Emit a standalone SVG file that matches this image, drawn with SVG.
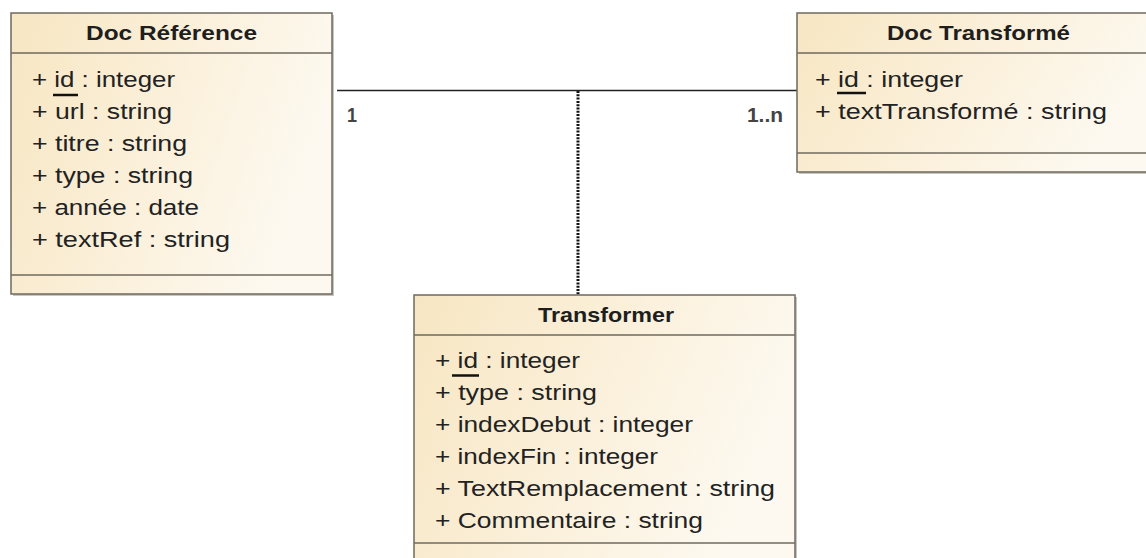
<svg xmlns="http://www.w3.org/2000/svg" width="1146" height="558" viewBox="0 0 1146 558">
<style>
  .box{fill:url(#fillg);stroke:#6f6a5e;stroke-width:1.5}
  .shadow{fill:#c9c6c0}
  .sep{stroke:#6f6a5e;stroke-width:1.5}
  .title{font-family:"Liberation Sans",Arial,sans-serif;font-weight:bold;font-size:21px;fill:#1e1e1e}
  .attr{font-family:"Liberation Sans",Arial,sans-serif;font-size:22.5px;fill:#222}
  .mult{font-family:"Liberation Sans",Arial,sans-serif;font-size:20px;font-weight:bold;fill:#444}
  .ul{stroke:#111;stroke-width:2.5}
  .assoc{stroke:#222;stroke-width:1.6;fill:none}
  .dep{stroke:#111;stroke-width:3;stroke-dasharray:2 1.3;fill:none}
</style>
<defs>
  <linearGradient id="fillg" x1="0" y1="0" x2="1" y2="0.3">
    <stop offset="0" stop-color="#f7e6c2"/>
    <stop offset="0.6" stop-color="#fbf1dd"/>
    <stop offset="1" stop-color="#fdf9f0"/>
  </linearGradient>
</defs>
<rect width="1146" height="558" fill="#ffffff"/>

<g id="connectors">
  <line class="assoc" x1="337" y1="90.5" x2="797" y2="90.5"/>
  <line class="dep" x1="578" y1="91" x2="578" y2="295"/>
  <text class="mult" x="347" y="122" textLength="10" lengthAdjust="spacingAndGlyphs">1</text>
  <text class="mult" x="747" y="122" textLength="36" lengthAdjust="spacingAndGlyphs">1..n</text>
</g>

<g id="doc-reference">
  <rect class="shadow" x="13" y="15" width="321" height="281"/>
  <rect class="box" x="11" y="13" width="321" height="281"/>
  <line class="sep" x1="11" y1="53" x2="332" y2="53"/>
  <line class="sep" x1="11" y1="275" x2="332" y2="275"/>
  <text class="title" x="86" y="40" textLength="171" lengthAdjust="spacingAndGlyphs">Doc Référence</text>
  <text class="attr" x="32" y="87" textLength="143" lengthAdjust="spacingAndGlyphs">+ id : integer</text>
  <line class="ul" x1="53" y1="95" x2="78" y2="95"/>
  <text class="attr" x="32" y="119" textLength="140" lengthAdjust="spacingAndGlyphs">+ url : string</text>
  <text class="attr" x="32" y="151" textLength="155" lengthAdjust="spacingAndGlyphs">+ titre : string</text>
  <text class="attr" x="32" y="183" textLength="161" lengthAdjust="spacingAndGlyphs">+ type : string</text>
  <text class="attr" x="32" y="215" textLength="167" lengthAdjust="spacingAndGlyphs">+ année : date</text>
  <text class="attr" x="32" y="247" textLength="198" lengthAdjust="spacingAndGlyphs">+ textRef : string</text>
</g>

<g id="doc-transforme">
  <rect class="shadow" x="799" y="15" width="360" height="159"/>
  <rect class="box" x="797" y="13" width="360" height="159"/>
  <line class="sep" x1="797" y1="53" x2="1157" y2="53"/>
  <line class="sep" x1="797" y1="153" x2="1157" y2="153"/>
  <text class="title" x="887" y="40" textLength="183" lengthAdjust="spacingAndGlyphs">Doc Transformé</text>
  <text class="attr" x="815" y="87" textLength="148" lengthAdjust="spacingAndGlyphs">+ id : integer</text>
  <line class="ul" x1="837" y1="93" x2="866" y2="93"/>
  <text class="attr" x="815" y="119" textLength="292" lengthAdjust="spacingAndGlyphs">+ textTransformé : string</text>
</g>

<g id="transformer">
  <rect class="shadow" x="416" y="297" width="381" height="270"/>
  <rect class="box" x="414" y="295" width="381" height="270"/>
  <line class="sep" x1="414" y1="335" x2="795" y2="335"/>
  <line class="sep" x1="414" y1="543" x2="795" y2="543"/>
  <text class="title" x="538" y="322" textLength="136" lengthAdjust="spacingAndGlyphs">Transformer</text>
  <text class="attr" x="435" y="368" textLength="145" lengthAdjust="spacingAndGlyphs">+ id : integer</text>
  <line class="ul" x1="452" y1="375.5" x2="479" y2="375.5"/>
  <text class="attr" x="435" y="400" textLength="162" lengthAdjust="spacingAndGlyphs">+ type : string</text>
  <text class="attr" x="435" y="432" textLength="258" lengthAdjust="spacingAndGlyphs">+ indexDebut : integer</text>
  <text class="attr" x="435" y="464" textLength="223" lengthAdjust="spacingAndGlyphs">+ indexFin : integer</text>
  <text class="attr" x="435" y="496" textLength="340" lengthAdjust="spacingAndGlyphs">+ TextRemplacement : string</text>
  <text class="attr" x="435" y="528" textLength="268" lengthAdjust="spacingAndGlyphs">+ Commentaire : string</text>
</g>
</svg>
